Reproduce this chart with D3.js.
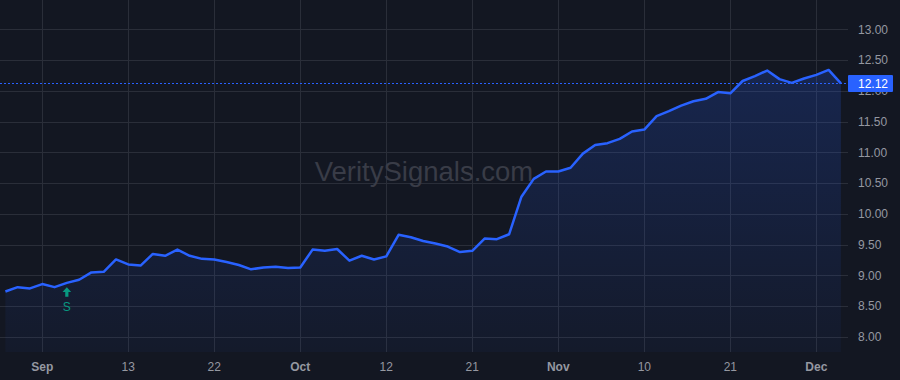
<!DOCTYPE html>
<html>
<head>
<meta charset="utf-8">
<script src="https://cdn.jsdelivr.net/npm/d3@7"></script>
<style>
  html, body { margin: 0; padding: 0; background: #131722; }
  svg { display: block; }
</style>
</head>
<body>
<svg id="chart" width="900" height="380"></svg>
<script>
// trading days Aug 29 2022 .. Dec 5 2022 (US market calendar)
const startDay = '2022-08-29';
const endDay = '2022-12-05';
const holidays = ['2022-09-05', '2022-11-24'];

const closes = [
    8.74, 8.81, 8.79, 8.86, 8.81, 8.88, 8.93, 9.05, 9.06, 9.26,
    9.18, 9.16, 9.35, 9.32, 9.42, 9.32, 9.27, 9.26, 9.22, 9.17,
    9.10, 9.13, 9.14, 9.12, 9.13, 9.42, 9.40, 9.43, 9.24, 9.32,
    9.26, 9.31, 9.66, 9.62, 9.56, 9.52, 9.47, 9.38, 9.40, 9.60,
    9.59, 9.67, 10.28, 10.57, 10.69, 10.69, 10.75, 10.98, 11.12, 11.15,
    11.22, 11.34, 11.37, 11.59, 11.67, 11.76, 11.83, 11.87, 11.98, 11.96,
    12.16, 12.24, 12.33, 12.19, 12.13, 12.20, 12.26, 12.34, 12.12
];

const tickDates = ['2022-09-01', '2022-09-13', '2022-09-22', '2022-10-03', '2022-10-12',
    '2022-10-21', '2022-11-01', '2022-11-10', '2022-11-21', '2022-12-01'];
const tickLabels = ['Sep', '13', '22', 'Oct', '12', '21', 'Nov', '10', '21', 'Dec'];
const monthTicks = ['Sep', 'Oct', 'Nov', 'Dec'];

const yTicks = [8, 8.5, 9, 9.5, 10, 10.5, 11, 11.5, 12, 12.5, 13];

const signalDates = ['2022-09-06'];
const signalLabels = ['S'];

const watermark = 'VeritySignals.com';

const fmt = d3.timeFormat('%Y-%m-%d');
const days = d3.timeDay.range(new Date(startDay + 'T00:00'), d3.timeDay.offset(new Date(endDay + 'T00:00'), 1))
    .filter(d => d.getDay() !== 0 && d.getDay() !== 6 && !holidays.includes(fmt(d)))
    .map(fmt);

const data = closes.map((v, i) => ({ i, date: days[i], v }));

const W = 900, H = 380;
const plotRight = 848, plotBottom = 352;

const svg = d3.select('#chart');
const x = d3.scaleLinear().domain([0, data.length - 1]).range([5.4, 840.9]);
const y = d3.scaleLinear().domain([8, 13]).range([337, 29.3]);

svg.append('rect').attr('width', W).attr('height', H).attr('fill', '#131722');

// grid
svg.append('g')
    .selectAll('line')
    .data(yTicks)
    .enter().append('line')
    .attr('x1', 0).attr('x2', plotRight)
    .attr('y1', d => Math.round(y(d)) + 0.5).attr('y2', d => Math.round(y(d)) + 0.5)
    .attr('stroke', '#2a2e39');

svg.append('g')
    .selectAll('line')
    .data(tickDates)
    .enter().append('line')
    .attr('x1', d => Math.round(x(days.indexOf(d))) + 0.5)
    .attr('x2', d => Math.round(x(days.indexOf(d))) + 0.5)
    .attr('y1', 0).attr('y2', plotBottom)
    .attr('stroke', '#2a2e39');

// watermark
svg.append('text')
    .attr('x', 424).attr('y', 181)
    .attr('text-anchor', 'middle')
    .style('font-family', '"Liberation Sans", Arial, sans-serif')
    .style('font-size', '27.5px')
    .attr('fill', '#393c47')
    .text(watermark);

// area
const defs = svg.append('defs');
const grad = defs.append('linearGradient')
    .attr('id', 'areaGrad')
    .attr('gradientUnits', 'userSpaceOnUse')
    .attr('x1', 0).attr('x2', 0).attr('y1', y(d3.max(closes))).attr('y2', plotBottom);
grad.append('stop').attr('offset', '0%').attr('stop-color', '#2962ff').attr('stop-opacity', 0.2);
grad.append('stop').attr('offset', '100%').attr('stop-color', '#2962ff').attr('stop-opacity', 0.04);

const area = d3.area()
    .x(d => x(d.i))
    .y0(plotBottom)
    .y1(d => y(d.v));

svg.append('path')
    .datum(data)
    .attr('d', area)
    .attr('fill', 'url(#areaGrad)');

const line = d3.line()
    .x(d => x(d.i))
    .y(d => y(d.v));

svg.append('path')
    .datum(data)
    .attr('d', line)
    .attr('fill', 'none')
    .attr('stroke', '#2962ff')
    .attr('stroke-width', 2.5)
    .attr('stroke-linejoin', 'round');

// last price line
const last = closes[closes.length - 1];
svg.append('line')
    .attr('x1', 0).attr('x2', plotRight)
    .attr('y1', Math.round(y(last)) + 0.5).attr('y2', Math.round(y(last)) + 0.5)
    .attr('stroke', '#2962ff')
    .attr('stroke-dasharray', '2,2');

// signal markers
const sig = svg.append('g')
    .selectAll('g')
    .data(signalDates.map((d, k) => ({ i: days.indexOf(d), label: signalLabels[k] })))
    .enter().append('g')
    .attr('transform', d => `translate(${x(d.i)},${y(closes[d.i]) + 4.5})`);

sig.append('path')
    .attr('d', 'M0,0L4.3,4.6L1.6,4.6L1.6,9.3L-1.6,9.3L-1.6,4.6L-4.3,4.6Z')
    .attr('fill', '#089981');

sig.append('text')
    .attr('y', 23.5)
    .attr('text-anchor', 'middle')
    .style('font-family', '"Liberation Sans", Arial, sans-serif')
    .style('font-size', '12px')
    .attr('fill', '#089981')
    .text(d => d.label);

// axes labels
const axisFont = '"Liberation Sans", Arial, sans-serif';

svg.append('g')
    .selectAll('text')
    .data(yTicks)
    .enter().append('text')
    .attr('x', 858)
    .attr('y', d => y(d))
    .attr('dy', '0.35em')
    .style('font-family', axisFont)
    .style('font-size', '12px')
    .attr('fill', '#9598a1')
    .text(d => d3.format('.2f')(d));

svg.append('g')
    .selectAll('text')
    .data(tickDates)
    .enter().append('text')
    .attr('x', d => x(days.indexOf(d)))
    .attr('y', 370.5)
    .attr('text-anchor', 'middle')
    .style('font-family', axisFont)
    .style('font-size', '12px')
    .style('font-weight', (d, k) => monthTicks.includes(tickLabels[k]) ? 'bold' : 'normal')
    .attr('fill', '#9598a1')
    .text((d, k) => tickLabels[k]);

// last price tag
svg.append('rect')
    .attr('x', 848).attr('y', y(last) - 8.5)
    .attr('width', 45).attr('height', 17)
    .attr('rx', 1)
    .attr('fill', '#2962ff');

svg.append('text')
    .attr('x', 858)
    .attr('y', y(last))
    .attr('dy', '0.35em')
    .style('font-family', axisFont)
    .style('font-size', '12px')
    .attr('fill', '#ffffff')
    .text(d3.format('.2f')(last));
</script>
</body>
</html>
